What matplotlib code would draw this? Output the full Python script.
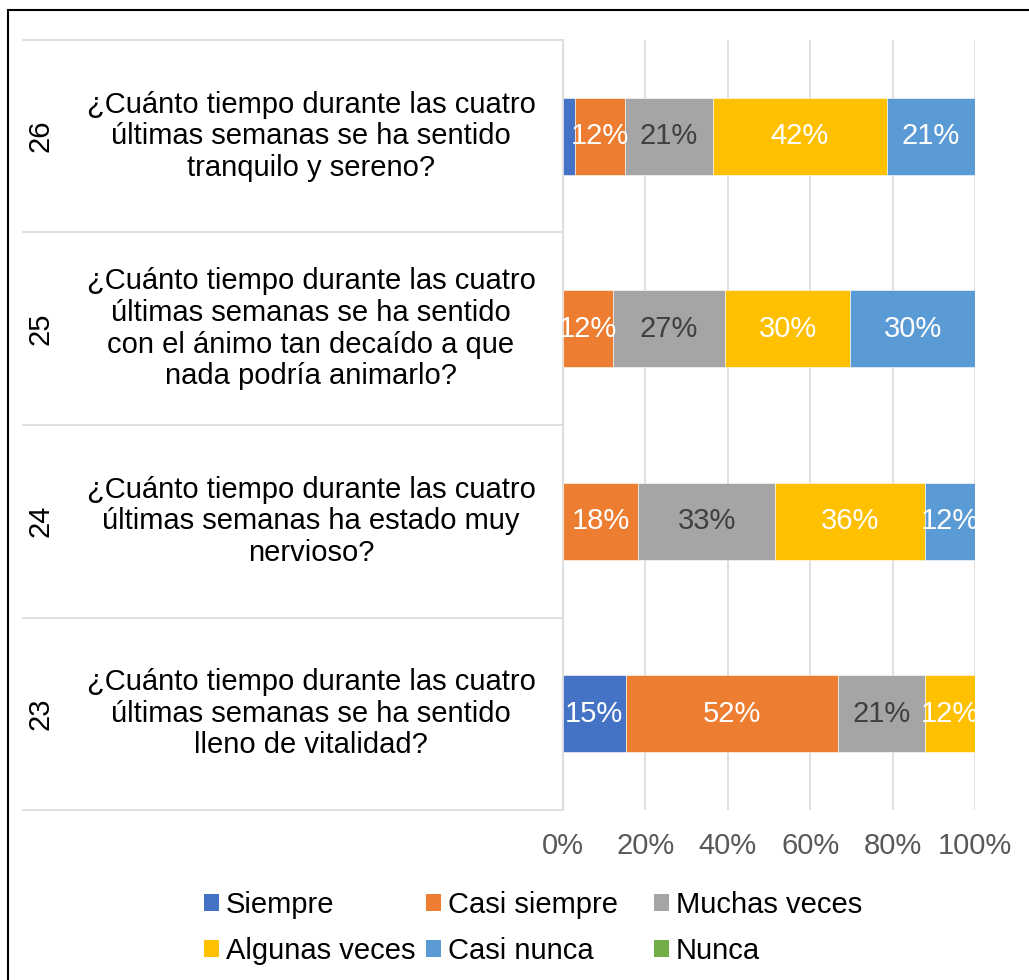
import matplotlib.pyplot as plt
import matplotlib.transforms as mtransforms
from matplotlib.patches import Rectangle, Patch
import numpy as np

# Data (percent of respondents)
numbers = ['23', '24', '25', '26']
questions = [
    '¿Cuánto tiempo durante las cuatro\núltimas semanas se ha sentido\nlleno de vitalidad?',
    '¿Cuánto tiempo durante las cuatro\núltimas semanas ha estado muy\nnervioso?',
    '¿Cuánto tiempo durante las cuatro\núltimas semanas se ha sentido\ncon el ánimo tan decaído a que\nnada podría animarlo?',
    '¿Cuánto tiempo durante las cuatro\núltimas semanas se ha sentido\ntranquilo y sereno?',
]
series_names = ['Siempre', 'Casi siempre', 'Muchas veces', 'Algunas veces', 'Casi nunca', 'Nunca']
siempre = [15.2, 0.0, 0.0, 3.0]
casi_siempre = [51.5, 18.2, 12.1, 12.1]
muchas_veces = [21.2, 33.3, 27.3, 21.2]
algunas_veces = [12.1, 36.4, 30.3, 42.4]
casi_nunca = [0.0, 12.1, 30.3, 21.2]
nunca = [0.0, 0.0, 0.0, 0.0]

colors = ['#4472C4', '#ED7D31', '#A5A5A5', '#FFC000', '#5B9BD5', '#70AD47']
label_colors = ['white', 'white', '#404040', 'white', 'white', 'white']

plt.rcParams['font.family'] = ['Liberation Sans', 'DejaVu Sans']
FS = 21

W, H = 1029, 980
fig = plt.figure(figsize=(W / 100, H / 100), dpi=100)
ax = fig.add_axes([563 / W, 1 - 810 / H, 412 / W, 770 / H])

series = [siempre, casi_siempre, muchas_veces, algunas_veces, casi_nunca, nunca]
y = np.arange(len(numbers))
left = np.zeros(len(numbers))
for name, vals, col, lcol in zip(series_names, series, colors, label_colors):
    vals = np.array(vals)
    ax.barh(y, vals, left=left, height=0.4, color=col, edgecolor='white',
            linewidth=0.4, zorder=3)
    for yi, v, l in zip(y, vals, left):
        if v >= 10:
            ax.text(l + v / 2, yi, f'{v:.0f}%', ha='center', va='center',
                    color=lcol, fontsize=FS, zorder=4)
    left += vals

ax.set_xlim(0, 100)
ax.set_ylim(-0.5, len(numbers) - 0.5)
ax.set_xticks(np.arange(0, 101, 20))
ax.set_xticklabels([f'{t}%' for t in range(0, 101, 20)])
ax.tick_params(axis='x', length=0, pad=16, labelsize=FS, labelcolor='#595959')
ax.set_yticks([])
ax.grid(axis='x', color='#D9D9D9', linewidth=1.2, zorder=0)
for s in ['top', 'right', 'bottom']:
    ax.spines[s].set_visible(False)
ax.spines['left'].set_color('#D9D9D9')
ax.spines['left'].set_linewidth(1.2)

# category separators in label area
trans_line = mtransforms.blended_transform_factory(ax.transAxes, ax.transData)
x0 = (23 - 563) / 412
for b in np.arange(-0.5, len(numbers), 1.0):
    ax.plot([x0, 0], [b, b], color='#D9D9D9', linewidth=1.2,
            transform=trans_line, clip_on=False)

# category labels
trans_txt = mtransforms.blended_transform_factory(fig.transFigure, ax.transData)
for yi, num, q in zip(y, numbers, questions):
    fig.text(40 / W, yi, num, rotation=90, ha='center', va='center',
             fontsize=FS, transform=trans_txt)
    fig.text(311 / W, yi, q, ha='center', va='center', fontsize=FS,
             linespacing=1.17, transform=trans_txt)

# legend, three fixed-width columns
handles = [Patch(facecolor=c, label=n) for n, c in zip(series_names, colors)]
col_x = [204, 426, 654]
for i, cx in enumerate(col_x):
    fig.legend(handles=[handles[i], handles[i + 3]], loc='upper left',
               bbox_to_anchor=(cx / W, 1 - 891 / H), ncol=1, frameon=False,
               fontsize=FS, handlelength=0.5, handleheight=0.5,
               handletextpad=0.25, labelspacing=0.62, borderaxespad=0,
               borderpad=0)

# outer chart border
fig.patches.append(Rectangle((8 / W, -0.05), 1.2, 1 - 10 / H + 0.05,
                             transform=fig.transFigure, fill=False,
                             edgecolor='black', linewidth=1.5))

plt.savefig('out.png', dpi=100)
